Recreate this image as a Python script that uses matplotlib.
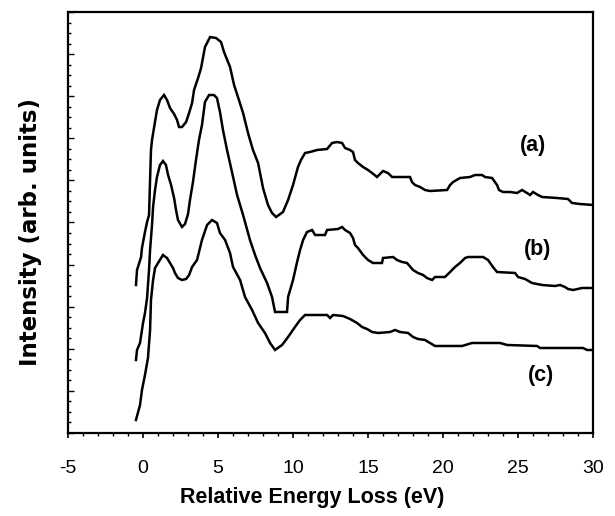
import matplotlib
matplotlib.use("Agg")
import matplotlib.pyplot as plt
from matplotlib.ticker import MultipleLocator, NullFormatter

plt.rcParams['font.family'] = ['Liberation Sans', 'DejaVu Sans']
plt.rcParams['axes.unicode_minus'] = False

# spectrum (a)
energy_a = [-0.47, -0.40, -0.13, -0.07, 0.13, 0.27, 0.40, 0.47, 0.53, 0.60, 0.73, 0.93,
            1.13, 1.40, 1.60, 1.80, 2.07, 2.27, 2.40, 2.60, 2.87, 3.07, 3.27, 3.40, 3.67,
            3.87, 4.13, 4.47, 4.87, 5.20, 5.40, 5.80, 6.07, 6.33, 6.67, 7.00, 7.33, 7.67,
            8.00, 8.33, 8.60, 8.87, 9.33, 9.67, 10.00, 10.33, 10.53, 10.80, 11.13, 11.60,
            12.27, 12.60, 12.93, 13.27, 13.47, 13.80, 14.00, 14.13, 14.33, 14.67, 15.00,
            15.27, 15.60, 15.80, 16.00, 16.33, 16.60, 17.80, 17.93, 18.13, 18.47, 18.80,
            19.13, 20.27, 20.47, 20.67, 21.13, 21.80, 22.13, 22.60, 22.80, 23.27, 23.60,
            23.73, 24.00, 24.47, 24.93, 25.27, 25.60, 25.80, 26.00, 26.33, 26.60, 27.60,
            28.33, 28.60, 29.13, 30.00]
intensity_a = [148, 163, 176, 185, 201, 211, 218, 253, 283, 293, 305, 323,
               333, 338, 333, 325, 319, 313, 306, 306, 311, 320, 330, 343, 355,
               365, 386, 396, 395, 391, 381, 366, 348, 336, 320, 300, 283, 270,
               245, 228, 220, 216, 221, 233, 248, 266, 273, 280, 281, 283,
               284, 290, 291, 290, 285, 283, 281, 273, 270, 266, 263,
               260, 256, 259, 262, 260, 256, 256, 251, 248, 246, 243,
               242, 243, 248, 251, 255, 256, 258, 258, 256, 255, 248,
               243, 241, 241, 240, 243, 240, 238, 241, 238, 236, 235,
               234, 230, 229, 228]

# spectrum (b)
energy_b = [-0.47, -0.40, -0.20, 0.00, 0.13, 0.27, 0.40, 0.47, 0.60, 0.67, 0.80, 0.93,
            1.13, 1.33, 1.53, 1.67, 1.87, 2.07, 2.20, 2.33, 2.60, 2.80, 3.00, 3.13, 3.33,
            3.53, 3.73, 3.93, 4.13, 4.40, 4.73, 4.93, 5.13, 5.33, 5.60, 5.93, 6.27, 6.67,
            7.13, 7.47, 7.80, 8.27, 8.60, 8.80, 9.60, 9.67, 10.00, 10.27, 10.47, 10.67,
            10.93, 11.27, 11.47, 12.13, 12.27, 13.00, 13.27, 13.47, 13.80, 14.00, 14.13,
            14.33, 14.67, 15.00, 15.33, 15.93, 16.00, 16.67, 16.93, 17.27, 17.60, 18.00,
            18.33, 18.67, 18.93, 19.27, 19.47, 20.13, 20.47, 20.80, 21.13, 21.47, 21.67,
            22.67, 23.00, 23.33, 23.60, 24.80, 25.00, 25.47, 25.93, 26.60, 27.47, 27.80,
            28.13, 28.33, 28.67, 29.27, 30.00]
intensity_b = [73, 83, 90, 110, 120, 135, 163, 183, 208, 226, 243, 256,
               268, 272, 268, 258, 248, 235, 223, 213, 206, 209, 219, 233, 251,
               273, 293, 308, 331, 338, 338, 335, 321, 303, 283, 261, 238, 218,
               193, 178, 165, 150, 136, 121, 121, 136, 153, 171, 183, 193,
               201, 203, 198, 198, 203, 204, 206, 203, 200, 195, 188,
               185, 178, 173, 170, 170, 175, 176, 173, 171, 170, 163,
               160, 158, 155, 153, 156, 156, 161, 166, 170, 175, 176,
               176, 173, 166, 161, 160, 156, 154, 150, 148, 147, 148,
               146, 144, 143, 145, 145]

# spectrum (c)
energy_c = [-0.47, -0.20, -0.07, 0.13, 0.33, 0.47, 0.53, 0.67, 0.80, 1.00, 1.33, 1.60,
            1.80, 2.00, 2.13, 2.33, 2.60, 2.87, 3.07, 3.27, 3.60, 3.93, 4.27, 4.60, 4.93,
            5.13, 5.47, 5.80, 6.00, 6.47, 6.80, 7.27, 7.67, 8.13, 8.47, 8.80, 9.27, 9.67,
            10.13, 10.47, 10.80, 12.27, 12.47, 12.67, 13.33, 13.80, 14.27, 14.60, 14.93,
            15.27, 15.67, 16.47, 16.80, 17.13, 17.67, 18.00, 18.33, 18.80, 19.13, 19.47,
            21.27, 21.93, 23.80, 24.27, 26.27, 26.47, 29.33, 29.60, 30.00]
intensity_c = [13, 28, 43, 58, 75, 103, 133, 153, 165, 170, 178, 175,
               170, 165, 160, 155, 153, 154, 158, 166, 173, 193, 208, 213, 210,
               200, 193, 180, 166, 153, 136, 123, 110, 100, 90, 83, 88, 96,
               106, 113, 118, 118, 115, 118, 117, 114, 110, 106, 104,
               101, 100, 101, 103, 101, 100, 96, 94, 93, 90, 87,
               87, 90, 90, 88, 87, 85, 85, 83, 83]

curve_labels = ['(a)', '(b)', '(c)']
label_x = [26.0, 26.3, 26.5]
label_y = [288, 183, 57]

fig = plt.figure(figsize=(6.15, 5.16), dpi=100)
ax = fig.add_axes([0.1106, 0.1609, 0.8537, 0.8158])

for e, i in [(energy_a, intensity_a), (energy_b, intensity_b), (energy_c, intensity_c)]:
    ax.plot(e, i, color='black', lw=1.8, solid_joinstyle='miter')

for t, x, y in zip(curve_labels, label_x, label_y):
    ax.text(x, y, t, fontsize=15.5, fontweight='bold', ha='center', va='center')

ax.set_xlim(-5, 30)
ax.set_ylim(0, 421)
ax.xaxis.set_major_locator(MultipleLocator(5))
ax.xaxis.set_minor_locator(MultipleLocator(1))
ax.yaxis.set_major_locator(MultipleLocator(42.1))
ax.yaxis.set_minor_locator(MultipleLocator(10.525))
ax.yaxis.set_major_formatter(NullFormatter())
ax.tick_params(axis='x', which='major', direction='out', length=3.5, width=1.2,
               labelsize=14, pad=16)
ax.tick_params(axis='x', which='minor', direction='out', length=2, width=1)
ax.tick_params(axis='y', which='major', direction='in', length=4, width=1)
ax.tick_params(axis='y', which='minor', direction='in', length=2.5, width=1)
for s in ax.spines.values():
    s.set_linewidth(1.6)

fig.text(312 / 615, 19 / 516, 'Relative Energy Loss (eV)', fontsize=15.5,
         fontweight='bold', ha='center', va='center')
fig.text(31 / 615, 0.55, 'Intensity (arb. units)', fontsize=16.5,
         fontweight='bold', ha='center', va='center', rotation=90,
         family='DejaVu Sans')

fig.savefig('out.png', dpi=100)
